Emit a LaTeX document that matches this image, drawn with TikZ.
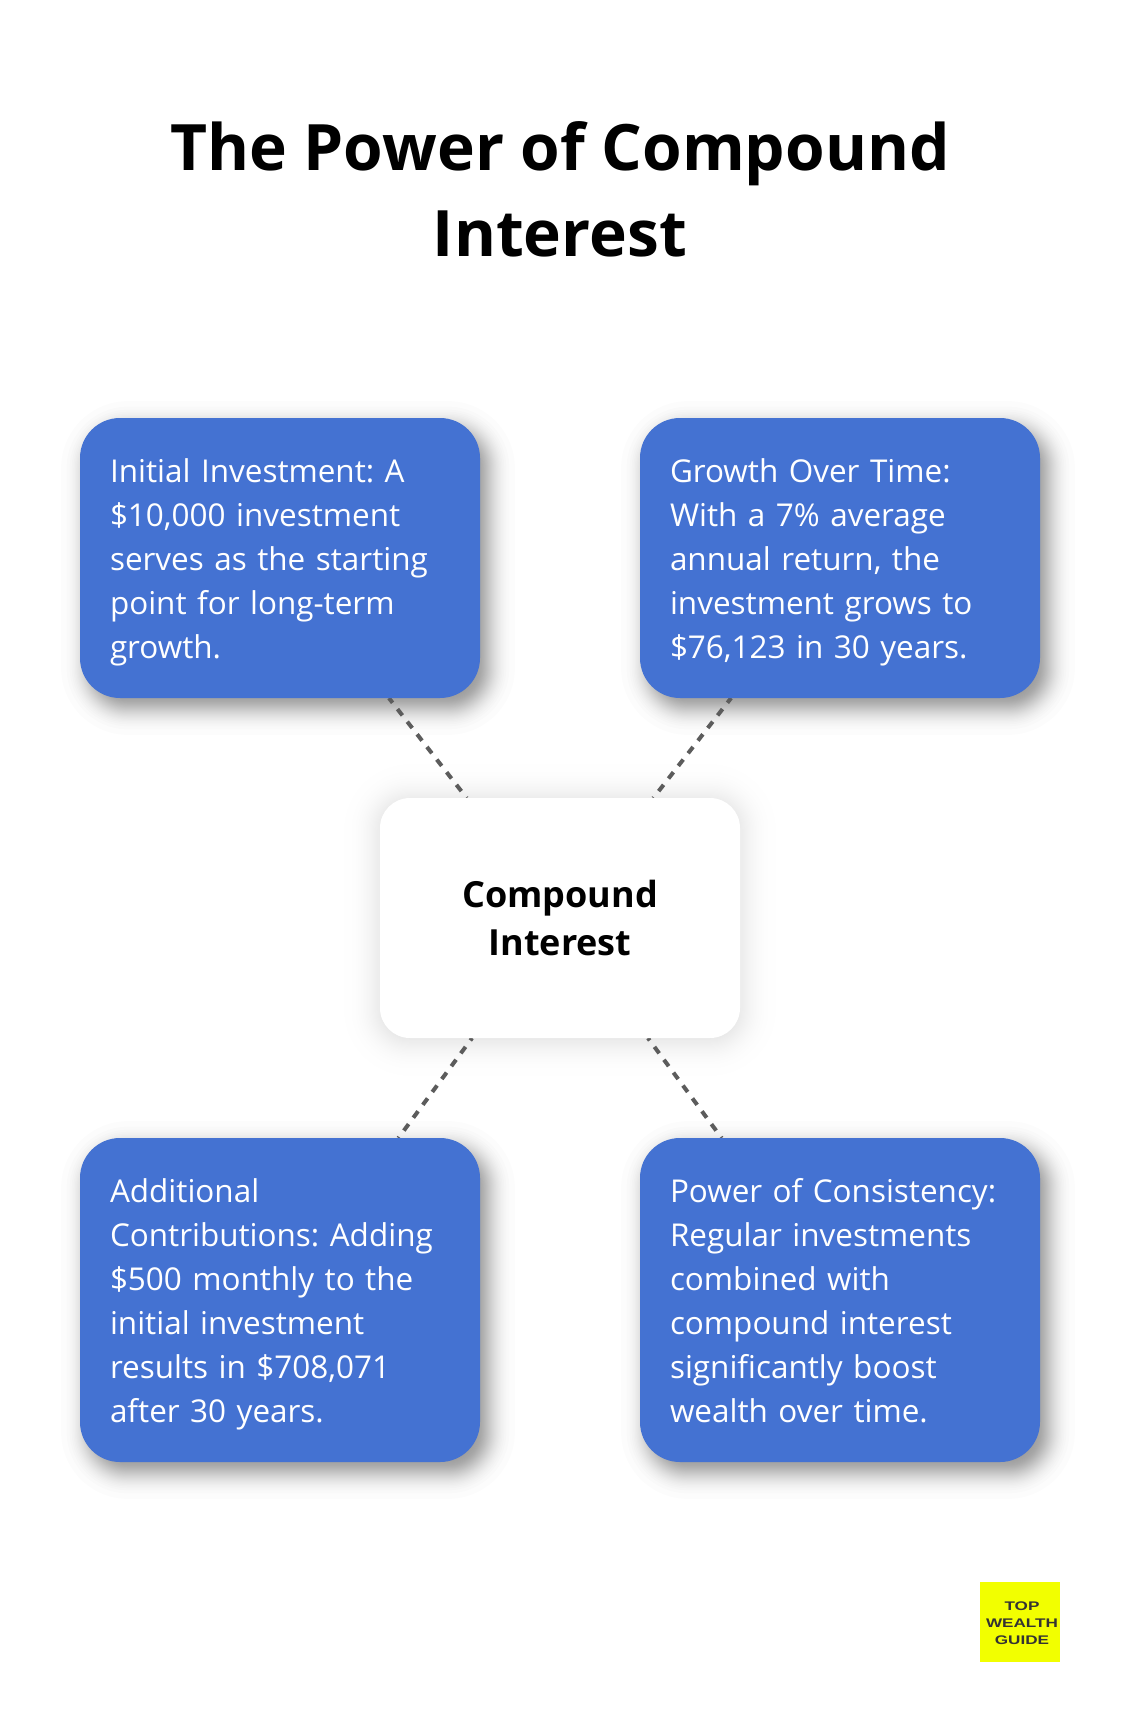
\documentclass[tikz,border=0pt]{standalone}
\usepackage{fontspec}
\setmainfont{Open Sans}
\newfontfamily\logofont{Liberation Sans}
\usetikzlibrary{backgrounds,calc}
\definecolor{boxblue}{HTML}{4472D2}
\definecolor{linegrey}{HTML}{5C5C5C}
\definecolor{logoyellow}{HTML}{F2FF00}
\definecolor{logotext}{HTML}{333333}
\newcommand{\lh}{\rule[-9.6pt]{0pt}{44pt}}
\newcommand{\softshadow}[6]{% node, dx, dy, radius, sigma, opacity per layer
  \foreach \q in {-2.24,-1.78,-1.53,-1.36,-1.21,-1.09,-0.98,-0.89,-0.80,-0.71,-0.64,-0.56,-0.49,-0.42,-0.35,-0.29,-0.22,-0.16,-0.09,-0.03,0.03,0.09,0.16,0.22,0.29,0.35,0.42,0.49,0.56,0.64,0.71,0.80,0.89,0.98,1.09,1.21,1.36,1.53,1.78,2.24} {
    \pgfmathsetmacro{\s}{\q*#5}
    \pgfmathsetmacro{\rr}{max(#4+\s,2)}
    \fill[black,fill opacity=#6,rounded corners=\rr pt]
      ($(#1.north west)+(#2-\s,#3-\s)$) rectangle ($(#1.south east)+(#2+\s,#3+\s)$);
  }
}
\tikzset{
  bluebox/.style={fill=boxblue,text=white,rounded corners=40pt,inner xsep=30pt,inner ysep=30pt,outer sep=0pt,
    text width=340pt,align=left,font=\fontsize{31.45}{44}\selectfont},
  centerbox/.style={fill=white,text=black,rounded corners=30pt,minimum width=360pt,minimum height=240pt,inner sep=0pt,outer sep=0pt,
    align=center,font=\fontsize{36}{48}\selectfont\bfseries},
  titletext/.style={text=black,align=center,inner sep=0pt,font=\fontsize{64}{86}\selectfont\bfseries},
  link/.style={draw=linegrey,line width=4pt},
  logobox/.style={fill=logoyellow,minimum width=80pt,minimum height=80pt,inner sep=0pt,outer sep=0pt},
  logotxt/.style={text=logotext,inner sep=0pt,anchor=base,font=\logofont\bfseries\fontsize{12.5}{12.5}\selectfont}
}
\begin{document}
\frenchspacing
\begin{tikzpicture}[x=1pt,y=-1pt]
\useasboundingbox (0,0) rectangle (1120,1722);
\node[titletext,anchor=base] (title1) at (560,170) {The Power of Compound};
\node[titletext,anchor=base] (title2) at (560,256.5) {Interest};
\node[centerbox] (c) at (560,918) {\raisebox{-2pt}{Compound}\\\raisebox{-2pt}{Interest}};
\node[bluebox,anchor=north west] (a) at (80,418) {\lh Initial Investment: A\\\$10,000 investment\\serves as the starting\\point for long-term\\growth.\lh};
\node[bluebox,anchor=north west] (b) at (640,418) {\lh Growth Over Time:\\With a 7\% average\\annual return, the\\investment grows to\\\$76,123 in 30 years.\lh};
\node[bluebox,anchor=north west] (d) at (80,1138) {\lh Additional\\Contributions: Adding\\\$500 monthly to the\\initial investment\\results in \$708,071\\after 30 years.\lh};
\node[bluebox,anchor=north west] (e) at (640,1138) {\lh Power of Consistency:\\Regular investments\\combined with\\compound interest\\significantly boost\\wealth over time.\lh};
\node[logobox] (logo) at (1020,1622) {};
\node[logotxt] (l1) at (1022,1610) {\scalebox{1.37}[1]{TOP}};
\node[logotxt] (l2) at (1022,1627) {\scalebox{1.37}[1]{WEALTH}};
\node[logotxt] (l3) at (1022,1644) {\scalebox{1.37}[1]{GUIDE}};
\begin{pgfonlayer}{background}
\fill[white] (0,0) rectangle (1120,1722);
\softshadow{a}{8}{10}{40}{12}{0.011}
\softshadow{b}{8}{10}{40}{12}{0.011}
\softshadow{d}{8}{10}{40}{12}{0.011}
\softshadow{e}{8}{10}{40}{12}{0.011}
\softshadow{c}{0}{2}{30}{16}{0.0055}
\draw[link,dash pattern=on 8pt off 8pt,dash phase=2pt] (a) -- (c);
\draw[link,dash pattern=on 8pt off 8pt,dash phase=2pt] (b) -- (c);
\draw[link,dash pattern=on 8pt off 8pt,dash phase=5pt] (c) -- (d);
\draw[link,dash pattern=on 8pt off 8pt,dash phase=5pt] (c) -- (e);
\end{pgfonlayer}
\end{tikzpicture}
\end{document}
